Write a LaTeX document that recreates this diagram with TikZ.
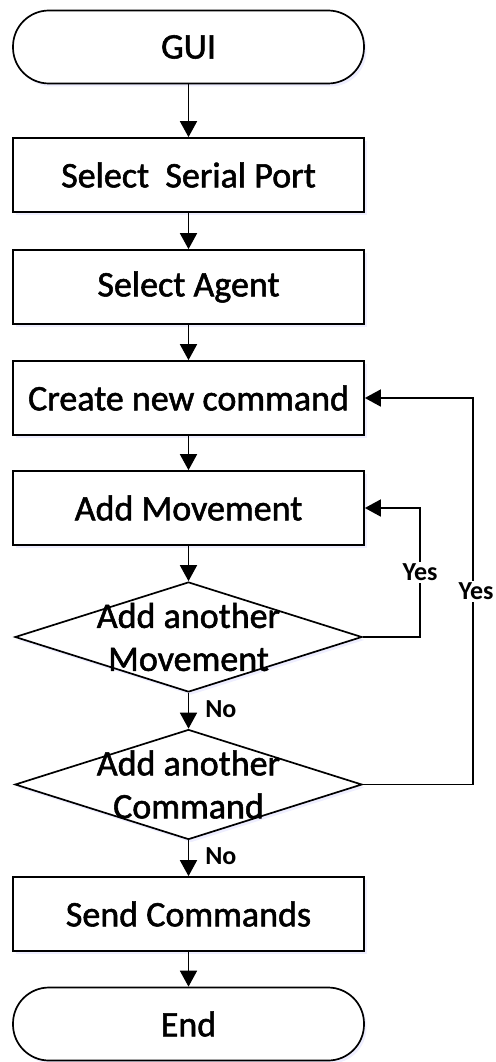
\documentclass[tikz,border=0pt]{standalone}
\usepackage{fontspec}
\setmainfont{Carlito}
\newfontfamily\mainheavy{Carlito}[FakeBold=1.5]
\usetikzlibrary{shapes.geometric,arrows.meta,shadows}
\begin{document}
\begin{tikzpicture}[x=1pt,y=-1pt,
  shd/.style={drop shadow={shadow xshift=2.5pt,shadow yshift=-3pt,fill=blue!15,opacity=0.45}},
  procbox/.style={draw,line width=1.7pt,fill=white,rectangle,minimum width=351pt,minimum height=74pt,inner sep=0pt,font=\mainheavy\fontsize{36}{43}\selectfont,shd},
  termbox/.style={procbox,rounded corners=36pt,minimum height=73pt},
  decbox/.style={draw,line width=1.7pt,fill=white,diamond,minimum width=347pt,minimum height=110pt,inner sep=0pt,shd},
  dectext/.style={align=center,inner sep=0pt,font=\mainheavy\fontsize{36}{43}\selectfont},
  arr/.style={line width=1.7pt,-{Triangle[length=16pt,width=17pt]}},
  lbl/.style={font=\bfseries\fontsize{26}{30}\selectfont,inner sep=2pt}
]
\useasboundingbox (0,0) rectangle (495,1062);
\node[termbox] (gui) at (188.5,47) {GUI};
\node[procbox] (s1) at (188.5,175) {Select\ \ Serial Port};
\node[procbox] (s2) at (188.5,287) {Select Agent};
\node[procbox] (s3) at (188.5,398) {Create new command};
\node[procbox] (s4) at (188.5,508) {Add Movement};
\node[decbox] (d1) at (188.5,637) {};
\node[dectext] (t1) at (188.5,637) {Add another\\Movement};
\node[decbox] (d2) at (188.5,784.5) {};
\node[dectext] (t2) at (188.5,784.5) {Add another\\Command};
\node[procbox] (s5) at (188.5,914) {Send Commands};
\node[termbox] (e) at (188.5,1024) {End};
\coordinate (c1) at (420,637);
\coordinate (c2) at (473,784.5);
\draw[arr] (gui) -- (s1);
\draw[arr] (s1) -- (s2);
\draw[arr] (s2) -- (s3);
\draw[arr] (s3) -- (s4);
\draw[arr] (s4) -- (d1);
\draw[arr] (d1) -- node[lbl,right,xshift=14pt,yshift=2pt]{No} (d2);
\draw[arr] (d2) -- node[lbl,right,xshift=14pt,yshift=2pt]{No} (s5);
\draw[arr] (s5) -- (e);
\draw[arr] (d1.east) -- (c1) |- node[lbl,pos=0.25,fill=white]{Yes} (s4.east);
\draw[arr] (d2.east) -- (c2) |- node[lbl,pos=0.25,fill=white,xshift=3pt]{Yes} (s3.east);
\end{tikzpicture}
\end{document}
